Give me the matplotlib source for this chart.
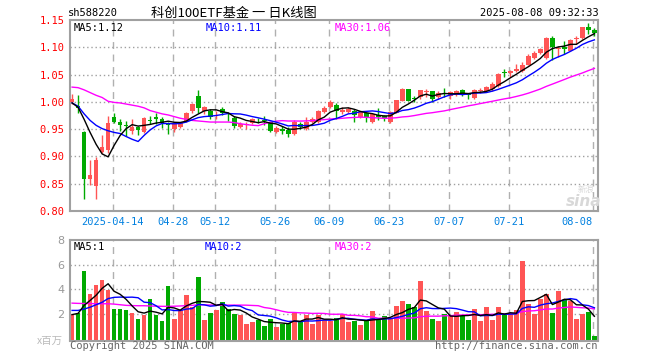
import matplotlib
matplotlib.use("Agg")
import matplotlib.pyplot as plt
import numpy as np

# daily candles, index 0 = 2025-04-02 ... 87 = 2025-08-08
opens = [1.000, 0.993, 0.945, 0.859, 0.846, 0.909, 0.911, 0.972, 0.964, 0.958,
         0.946, 0.954, 0.944, 0.966, 0.973, 0.968, 0.959, 0.951, 0.954, 0.965,
         0.984, 1.011, 0.983, 0.984, 0.979, 0.987, 0.978, 0.970, 0.954, 0.958,
         0.961, 0.967, 0.966, 0.963, 0.945, 0.951, 0.949, 0.941, 0.960, 0.951,
         0.963, 0.963, 0.981, 0.991, 0.994, 0.982, 0.982, 0.984, 0.973, 0.979,
         0.963, 0.975, 0.974, 0.963, 0.980, 1.002, 1.023, 1.006, 1.008, 1.018,
         1.019, 1.008, 1.015, 1.010, 1.013, 1.021, 1.015, 1.007, 1.020, 1.020,
         1.024, 1.029, 1.054, 1.052, 1.056, 1.056, 1.068, 1.080, 1.089, 1.080,
         1.117, 1.097, 1.100, 1.094, 1.115, 1.117, 1.137, 1.132]
closes = [1.005, 0.988, 0.859, 0.866, 0.893, 0.917, 0.961, 0.964, 0.957, 0.955,
          0.954, 0.948, 0.971, 0.965, 0.968, 0.961, 0.958, 0.961, 0.963, 0.980,
          0.996, 0.988, 0.990, 0.973, 0.980, 0.979, 0.977, 0.955, 0.960, 0.959,
          0.969, 0.966, 0.965, 0.946, 0.952, 0.946, 0.941, 0.964, 0.954, 0.964,
          0.969, 0.984, 0.989, 1.000, 0.984, 0.985, 0.987, 0.976, 0.981, 0.971,
          0.977, 0.972, 0.970, 0.982, 1.003, 1.023, 1.002, 1.005, 1.021, 1.019,
          1.006, 1.017, 1.014, 1.018, 1.019, 1.012, 1.013, 1.022, 1.022, 1.027,
          1.032, 1.051, 1.053, 1.057, 1.060, 1.068, 1.084, 1.089, 1.097, 1.117,
          1.101, 1.099, 1.097, 1.113, 1.117, 1.137, 1.132, 1.126]
highs = [1.014, 1.013, 0.946, 0.893, 0.899, 0.940, 0.974, 0.980, 0.969, 0.965,
         0.969, 0.956, 0.972, 0.974, 0.979, 0.972, 0.964, 0.963, 0.964, 0.981,
         0.997, 1.022, 0.993, 0.986, 0.983, 0.990, 0.981, 0.974, 0.964, 0.963,
         0.971, 0.971, 0.974, 0.964, 0.956, 0.955, 0.954, 0.967, 0.963, 0.972,
         0.973, 0.985, 0.992, 1.004, 0.998, 0.991, 0.990, 0.987, 0.984, 0.982,
         0.980, 0.988, 0.976, 0.984, 1.004, 1.025, 1.024, 1.011, 1.021, 1.024,
         1.020, 1.019, 1.026, 1.020, 1.021, 1.023, 1.016, 1.024, 1.025, 1.029,
         1.036, 1.052, 1.060, 1.059, 1.070, 1.073, 1.087, 1.094, 1.099, 1.118,
         1.120, 1.103, 1.112, 1.115, 1.120, 1.138, 1.144, 1.135]
lows = [0.996, 0.980, 0.822, 0.847, 0.822, 0.907, 0.906, 0.961, 0.946, 0.937,
        0.942, 0.939, 0.943, 0.959, 0.960, 0.952, 0.941, 0.944, 0.952, 0.963,
        0.980, 0.980, 0.978, 0.968, 0.968, 0.976, 0.965, 0.953, 0.952, 0.951,
        0.959, 0.961, 0.958, 0.945, 0.943, 0.942, 0.936, 0.939, 0.950, 0.948,
        0.962, 0.962, 0.979, 0.989, 0.968, 0.977, 0.980, 0.963, 0.971, 0.963,
        0.962, 0.967, 0.965, 0.962, 0.979, 1.001, 1.001, 1.000, 1.005, 1.009,
        1.000, 1.006, 1.009, 1.006, 1.011, 1.010, 1.005, 1.005, 1.016, 1.018,
        1.020, 1.027, 1.045, 1.045, 1.054, 1.054, 1.067, 1.078, 1.088, 1.078,
        1.077, 1.082, 1.087, 1.093, 1.106, 1.116, 1.124, 1.121]
# volume, millions
volumes = [2.00, 2.10, 5.47, 3.65, 4.38, 4.79, 3.97, 2.42, 2.42, 2.34,
           2.12, 1.60, 1.88, 3.24, 1.88, 1.44, 4.30, 1.60, 2.34, 3.56,
           2.53, 5.03, 1.52, 2.12, 2.34, 2.94, 2.42, 2.01, 1.88, 1.17,
           1.31, 1.52, 1.06, 1.60, 0.98, 1.17, 1.25, 2.20, 1.44, 1.88,
           1.17, 1.88, 1.52, 1.44, 1.66, 1.99, 1.31, 1.44, 1.12, 1.44,
           2.26, 1.52, 1.80, 1.60, 2.61, 3.02, 2.83, 2.53, 4.65, 2.26,
           1.60, 1.44, 2.01, 1.85, 2.15, 1.85, 1.52, 2.42, 1.44, 2.53,
           1.52, 2.53, 1.93, 1.99, 2.34, 6.29, 2.83, 2.01, 3.24, 3.62,
           2.12, 3.84, 3.16, 3.02, 1.60, 2.01, 2.20, 0.24]

# moving-average values at the left edge (history before the window)
ma5_head = [0.998, 0.990, 0.968, 0.944]
ma10_head = [0.998, 0.992, 0.978, 0.966, 0.957, 0.951, 0.947, 0.944, 0.942]
ma30_head = [1.027, 1.026, 1.022, 1.017, 1.012, 1.008, 1.001, 0.999, 0.998, 0.996,
             0.994, 0.992, 0.989, 0.984, 0.981, 0.978, 0.976, 0.973, 0.970, 0.968,
             0.966, 0.965, 0.964, 0.963, 0.963, 0.963, 0.963, 0.962, 0.960]
vma5_head = [1.95, 2.05, 2.70, 3.10]
vma10_head = [2.29, 2.29, 2.40, 2.55, 2.75, 2.95, 3.25, 3.35, 3.37]
vma30_head = [2.88, 2.86, 2.85, 2.85, 2.83, 2.83, 2.83, 2.80, 2.75, 2.70,
              2.68, 2.67, 2.67, 2.65, 2.63, 2.62, 2.62, 2.63, 2.65, 2.68,
              2.70, 2.75, 2.74, 2.73, 2.72, 2.72, 2.72, 2.72, 2.72]

tick_idx = [7, 17, 24, 34, 43, 53, 63, 73, 87]
tick_lbl = ["2025-04-14", "04-28", "05-12", "05-26", "06-09", "06-23",
            "07-07", "07-21", "08-08"]
price_ticks = [0.80, 0.85, 0.90, 0.95, 1.00, 1.05, 1.10, 1.15]
vol_ticks = [2, 4, 6, 8]

RED = "#ff5555"
GREEN = "#00aa00"
MONO = "DejaVu Sans Mono"
W, H = 660, 360


def moving(vals, n, head):
    # first values come from the chart, the rest is a plain rolling mean
    out = list(head)
    for i in range(len(head), len(vals)):
        out.append(np.mean(vals[i - n + 1:i + 1]))
    return np.array(out)


def px_axes(fig, x0, y0, x1, y1):
    return fig.add_axes([x0 / W, 1 - y1 / H, (x1 - x0) / W, (y1 - y0) / H])


def frame(ax):
    for s in ax.spines.values():
        s.set_color("#a0a0a0")
        s.set_linewidth(1.5)
    ax.set_xlim(-0.35, 87.6)
    ax.set_xticks([])
    for t in tick_idx:
        ax.axvline(t - 0.25, color="#b0b0b0", lw=1, ls=(0, (5, 4)), zorder=0)


def ftext(x, y, s, **kw):
    fig.text(x / W, 1 - y / H, s, va="center", **kw)


x = np.arange(len(closes))
o = np.array(opens)
c = np.array(closes)
cols = np.where(c >= o, RED, GREEN)

fig = plt.figure(figsize=(6.6, 3.6), dpi=100)
fig.patch.set_facecolor("white")

#price panel
ax = px_axes(fig, 70, 20, 598, 211)
frame(ax)
ax.set_ylim(0.80, 1.15)
ax.set_yticks(price_ticks)
ax.set_yticklabels(["%.2f" % v for v in price_ticks], color="red",
                   fontfamily=MONO, fontsize=7.5)
ax.tick_params(axis="y", length=0, pad=4)
for v in price_ticks[1:-1]:
    ax.axhline(v, color="#a0a0a0", lw=1, ls=(0, (1, 2)), zorder=0)
ax.vlines(x, lows, highs, colors=cols, lw=1, zorder=2)
body = np.maximum(np.abs(c - o), 0.0012)
ax.bar(x, body, bottom=np.minimum(o, c), width=0.78, color=cols, zorder=3)
ax.plot(x, moving(closes, 30, ma30_head), color="#ff00ff", lw=1, zorder=4)
ax.plot(x, moving(closes, 10, ma10_head), color="#0000ff", lw=1, zorder=4)
ax.plot(x, moving(closes, 5, ma5_head), color="black", lw=1, zorder=4)
ftext(566, 201, "sina", color="#d8d8d8", fontsize=11, style="italic",
      fontweight="bold", ha="left")
ftext(578, 189, "新浪", color="#d8d8d8", fontsize=6, ha="left",
      family=["Noto Sans CJK SC"])

#date labels, last one kept inside the frame
for t, lbl in zip(tick_idx, tick_lbl):
    ha = "right" if t == tick_idx[-1] else "center"
    ftext(70.8 + 6 * t, 222, lbl, color="#0080e0", fontfamily=MONO,
          fontsize=7.5, ha=ha)

#volume panel
av = px_axes(fig, 70, 240, 598, 340.5)
frame(av)
vb = -0.15
av.set_ylim(vb, 8)
av.set_yticks(vol_ticks)
av.set_yticklabels([str(v) for v in vol_ticks], color="#999999", fontsize=8)
av.tick_params(axis="y", length=0, pad=4)
for v in vol_ticks[:-1]:
    av.axhline(v, color="#a0a0a0", lw=1, ls=(0, (1, 2)), zorder=0)
av.bar(x, np.array(volumes) - vb, bottom=vb, width=0.78, color=cols, zorder=2)
av.plot(x, moving(volumes, 30, vma30_head), color="#ff00ff", lw=1, zorder=4)
av.plot(x, moving(volumes, 10, vma10_head), color="#0000ff", lw=1, zorder=4)
av.plot(x, moving(volumes, 5, vma5_head), color="black", lw=1, zorder=4)

#header and legends
ftext(68, 13, "sh588220", fontfamily=MONO, fontsize=7.5, ha="left")
ftext(234, 13, "科创100ETF基金 一 日K线图", family=["Noto Sans CJK SC"],
      fontsize=9.5, ha="center")
ftext(599, 13, "2025-08-08 09:32:33", fontfamily=MONO, fontsize=7.5, ha="right")
ftext(74, 28, "MA5:1.12", color="black", fontfamily=MONO, fontsize=7.5, ha="left")
ftext(206, 28, "MA10:1.11", color="#0000ff", fontfamily=MONO, fontsize=7.5, ha="left")
ftext(335, 28, "MA30:1.06", color="#ff00ff", fontfamily=MONO, fontsize=7.5, ha="left")
ftext(74, 247, "MA5:1", color="black", fontfamily=MONO, fontsize=7.5, ha="left")
ftext(205, 247, "MA10:2", color="#0000ff", fontfamily=MONO, fontsize=7.5, ha="left")
ftext(335, 247, "MA30:2", color="#ff00ff", fontfamily=MONO, fontsize=7.5, ha="left")
ftext(63, 341, "x百万", color="#bbbbbb", family=["Noto Sans CJK SC", "DejaVu Sans"],
      fontsize=7.5, ha="right")
ftext(70, 346, "Copyright 2025 SINA.COM", color="#666666", fontfamily=MONO,
      fontsize=7.5, ha="left")
ftext(598, 346, "http://finance.sina.com.cn", color="#666666", fontfamily=MONO,
      fontsize=7.5, ha="right")

fig.savefig("out.png", dpi=100, facecolor="white")
